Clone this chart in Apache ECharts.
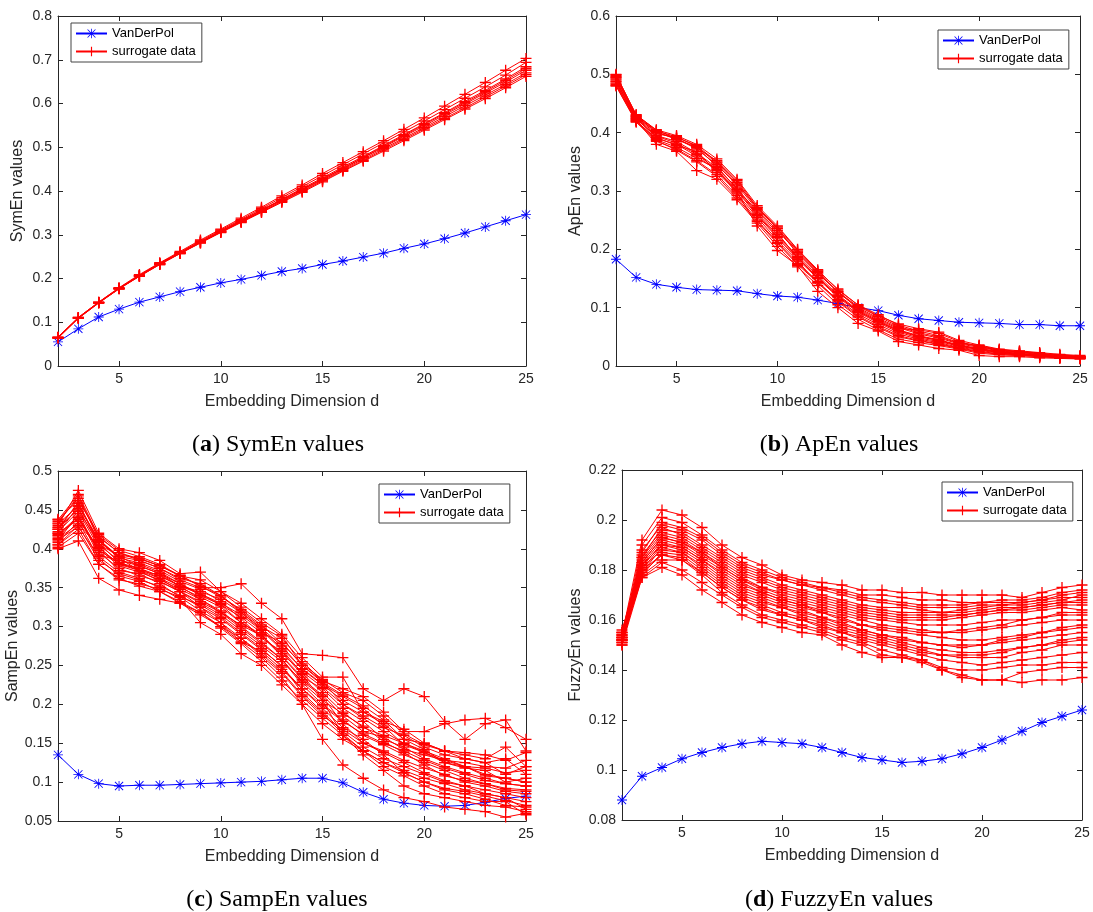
<!DOCTYPE html>
<html><head><meta charset="utf-8">
<script src="https://cdn.jsdelivr.net/npm/echarts@6/dist/echarts.min.js"></script>
<style>html,body{margin:0;padding:0;background:#fff}#c{width:1093px;height:912px}</style>
</head><body><div id="c"></div><script>
const dims = [2,3,4,5,6,7,8,9,10,11,12,13,14,15,16,17,18,19,20,21,22,23,24,25];
const xTicks = [5,10,15,20,25];
const seriesNames = ['VanDerPol', 'surrogate data'];

const symEnVDP = [0.055,0.085,0.112,0.130,0.146,0.158,0.170,0.180,0.190,0.198,0.207,0.216,0.223,0.232,0.240,0.249,0.258,0.269,0.279,0.291,0.304,0.318,0.332,0.346];
const symEnSur = [
 [0.066,0.111,0.146,0.179,0.209,0.236,0.262,0.288,0.313,0.338,0.363,0.389,0.414,0.440,0.465,0.490,0.515,0.541,0.567,0.594,0.621,0.648,0.676,0.703],
 [0.065,0.110,0.145,0.178,0.207,0.235,0.260,0.286,0.311,0.335,0.360,0.385,0.410,0.435,0.460,0.485,0.510,0.535,0.560,0.586,0.612,0.638,0.665,0.694],
 [0.065,0.110,0.145,0.177,0.206,0.234,0.259,0.284,0.309,0.333,0.357,0.381,0.406,0.430,0.455,0.479,0.504,0.529,0.554,0.579,0.605,0.630,0.656,0.684],
 [0.064,0.109,0.144,0.177,0.206,0.233,0.258,0.283,0.307,0.331,0.355,0.379,0.403,0.427,0.451,0.476,0.500,0.525,0.549,0.574,0.599,0.624,0.649,0.676],
 [0.064,0.109,0.144,0.176,0.205,0.232,0.257,0.282,0.306,0.330,0.353,0.377,0.401,0.425,0.449,0.473,0.497,0.521,0.545,0.570,0.595,0.619,0.644,0.670],
 [0.065,0.110,0.145,0.177,0.206,0.233,0.258,0.282,0.306,0.329,0.352,0.376,0.399,0.423,0.447,0.470,0.494,0.518,0.542,0.566,0.590,0.615,0.640,0.666],
 [0.066,0.111,0.146,0.178,0.207,0.234,0.259,0.284,0.308,0.332,0.356,0.380,0.404,0.428,0.452,0.477,0.502,0.527,0.552,0.577,0.602,0.627,0.653,0.680],
 [0.065,0.110,0.145,0.177,0.205,0.232,0.257,0.281,0.305,0.328,0.351,0.374,0.397,0.421,0.445,0.468,0.491,0.515,0.539,0.563,0.587,0.611,0.636,0.662]
];

const apEnVDP = [0.183,0.152,0.140,0.135,0.131,0.130,0.129,0.124,0.120,0.118,0.113,0.107,0.100,0.095,0.087,0.081,0.078,0.075,0.074,0.073,0.071,0.071,0.069,0.069];
const apEnSur = [
 [0.500,0.430,0.405,0.395,0.380,0.355,0.320,0.275,0.240,0.200,0.165,0.130,0.105,0.088,0.070,0.060,0.052,0.040,0.035,0.028,0.025,0.022,0.019,0.017],
 [0.495,0.428,0.400,0.390,0.372,0.345,0.310,0.268,0.232,0.195,0.160,0.126,0.100,0.082,0.066,0.055,0.048,0.038,0.032,0.026,0.023,0.020,0.018,0.016],
 [0.490,0.425,0.395,0.385,0.365,0.340,0.305,0.262,0.225,0.188,0.155,0.122,0.096,0.078,0.062,0.052,0.045,0.036,0.030,0.025,0.021,0.019,0.017,0.015],
 [0.485,0.420,0.390,0.380,0.360,0.335,0.300,0.258,0.220,0.183,0.150,0.118,0.092,0.074,0.058,0.048,0.042,0.034,0.028,0.023,0.020,0.018,0.016,0.014],
 [0.480,0.418,0.385,0.372,0.352,0.328,0.292,0.250,0.212,0.176,0.145,0.112,0.086,0.068,0.052,0.044,0.038,0.031,0.025,0.021,0.019,0.017,0.015,0.013],
 [0.492,0.422,0.380,0.368,0.335,0.320,0.285,0.245,0.205,0.170,0.138,0.105,0.080,0.062,0.046,0.040,0.035,0.029,0.022,0.019,0.018,0.016,0.014,0.013],
 [0.498,0.426,0.398,0.392,0.378,0.350,0.315,0.270,0.236,0.192,0.158,0.128,0.098,0.080,0.064,0.062,0.056,0.042,0.033,0.027,0.024,0.021,0.018,0.016],
 [0.488,0.424,0.392,0.378,0.368,0.332,0.298,0.240,0.198,0.172,0.128,0.100,0.073,0.060,0.042,0.036,0.030,0.027,0.018,0.016,0.016,0.014,0.013,0.012],
 [0.494,0.427,0.402,0.388,0.375,0.342,0.303,0.266,0.228,0.185,0.152,0.120,0.094,0.076,0.060,0.050,0.044,0.035,0.029,0.024,0.022,0.018,0.016,0.015],
 [0.483,0.421,0.388,0.375,0.356,0.338,0.295,0.255,0.215,0.180,0.142,0.114,0.089,0.071,0.055,0.046,0.040,0.032,0.027,0.022,0.020,0.017,0.015,0.014],
 [0.496,0.429,0.403,0.393,0.376,0.348,0.312,0.272,0.235,0.197,0.162,0.127,0.102,0.085,0.068,0.057,0.050,0.039,0.034,0.027,0.024,0.021,0.018,0.016],
 [0.487,0.423,0.394,0.382,0.363,0.337,0.302,0.260,0.222,0.186,0.152,0.120,0.094,0.076,0.061,0.051,0.044,0.035,0.029,0.024,0.021,0.018,0.016,0.015],
 [0.481,0.419,0.387,0.370,0.350,0.325,0.288,0.248,0.210,0.174,0.143,0.110,0.084,0.066,0.050,0.043,0.037,0.030,0.024,0.020,0.018,0.016,0.014,0.013],
 [0.499,0.431,0.404,0.390,0.374,0.352,0.318,0.272,0.238,0.199,0.163,0.132,0.104,0.086,0.072,0.064,0.058,0.044,0.036,0.029,0.026,0.023,0.020,0.018]
];

const sampEnVDP = [0.135,0.110,0.098,0.095,0.096,0.096,0.097,0.098,0.099,0.100,0.101,0.103,0.105,0.105,0.099,0.087,0.078,0.073,0.070,0.069,0.070,0.074,0.079,0.082];
const sampEnSur = [
 [0.420,0.455,0.410,0.390,0.385,0.375,0.360,0.350,0.350,0.355,0.330,0.310,0.265,0.263,0.260,0.220,0.205,0.220,0.210,0.178,0.155,0.175,0.180,0.140],
 [0.430,0.475,0.420,0.400,0.395,0.385,0.368,0.370,0.345,0.325,0.305,0.288,0.250,0.230,0.220,0.210,0.190,0.165,0.165,0.175,0.180,0.182,0.170,0.155],
 [0.400,0.410,0.362,0.347,0.340,0.335,0.330,0.315,0.300,0.280,0.260,0.235,0.200,0.155,0.122,0.105,0.090,0.080,0.075,0.068,0.065,0.062,0.055,0.060],
 [0.415,0.440,0.400,0.378,0.370,0.360,0.348,0.335,0.320,0.300,0.280,0.258,0.225,0.200,0.180,0.160,0.148,0.135,0.125,0.115,0.105,0.098,0.092,0.090],
 [0.425,0.460,0.405,0.385,0.378,0.368,0.355,0.342,0.330,0.315,0.295,0.270,0.240,0.215,0.190,0.170,0.160,0.150,0.140,0.130,0.120,0.110,0.105,0.100],
 [0.435,0.465,0.415,0.395,0.385,0.375,0.362,0.355,0.340,0.320,0.300,0.285,0.255,0.230,0.200,0.185,0.170,0.160,0.145,0.135,0.130,0.125,0.110,0.120],
 [0.405,0.430,0.385,0.368,0.360,0.352,0.340,0.325,0.310,0.290,0.270,0.250,0.215,0.190,0.165,0.145,0.130,0.120,0.110,0.100,0.095,0.085,0.080,0.075],
 [0.410,0.445,0.395,0.375,0.365,0.358,0.345,0.330,0.315,0.295,0.275,0.255,0.230,0.210,0.175,0.150,0.140,0.128,0.118,0.110,0.100,0.095,0.088,0.085],
 [0.428,0.450,0.408,0.382,0.372,0.362,0.350,0.338,0.325,0.305,0.290,0.262,0.235,0.220,0.195,0.178,0.155,0.145,0.130,0.120,0.112,0.105,0.098,0.095],
 [0.420,0.438,0.398,0.372,0.368,0.355,0.338,0.320,0.305,0.280,0.268,0.245,0.220,0.195,0.170,0.155,0.135,0.112,0.100,0.090,0.085,0.078,0.070,0.068],
 [0.438,0.462,0.418,0.398,0.390,0.380,0.365,0.360,0.345,0.330,0.310,0.290,0.260,0.235,0.235,0.190,0.175,0.155,0.150,0.140,0.135,0.130,0.145,0.120],
 [0.412,0.428,0.390,0.370,0.362,0.350,0.335,0.305,0.290,0.265,0.250,0.225,0.200,0.175,0.155,0.140,0.125,0.115,0.105,0.098,0.090,0.085,0.080,0.065],
 [0.422,0.448,0.402,0.380,0.375,0.365,0.352,0.345,0.335,0.318,0.298,0.275,0.245,0.225,0.205,0.190,0.178,0.168,0.150,0.140,0.130,0.125,0.130,0.110],
 [0.432,0.455,0.412,0.388,0.382,0.372,0.358,0.348,0.332,0.310,0.285,0.268,0.238,0.205,0.160,0.140,0.120,0.108,0.095,0.085,0.080,0.075,0.075,0.058],
 [0.418,0.442,0.392,0.385,0.380,0.370,0.355,0.340,0.328,0.312,0.292,0.280,0.250,0.228,0.212,0.198,0.180,0.155,0.142,0.125,0.118,0.115,0.100,0.105],
 [0.408,0.435,0.388,0.365,0.358,0.345,0.330,0.318,0.300,0.285,0.262,0.240,0.210,0.185,0.168,0.150,0.138,0.125,0.112,0.102,0.095,0.090,0.085,0.080],
 [0.425,0.452,0.405,0.392,0.388,0.378,0.365,0.352,0.338,0.322,0.302,0.278,0.252,0.232,0.215,0.205,0.185,0.162,0.148,0.140,0.138,0.135,0.128,0.138],
 [0.402,0.420,0.380,0.360,0.355,0.348,0.338,0.328,0.312,0.292,0.272,0.248,0.220,0.198,0.178,0.162,0.150,0.140,0.128,0.118,0.110,0.102,0.098,0.095],
 [0.433,0.468,0.412,0.390,0.378,0.368,0.352,0.335,0.318,0.302,0.288,0.262,0.232,0.212,0.185,0.165,0.158,0.142,0.135,0.128,0.120,0.118,0.112,0.115],
 [0.417,0.440,0.398,0.382,0.375,0.362,0.345,0.332,0.318,0.298,0.278,0.258,0.228,0.205,0.188,0.172,0.152,0.138,0.122,0.108,0.102,0.098,0.090,0.088],
 [0.427,0.458,0.410,0.388,0.372,0.358,0.345,0.325,0.305,0.285,0.265,0.242,0.212,0.188,0.162,0.140,0.125,0.112,0.100,0.092,0.088,0.082,0.076,0.070],
 [0.413,0.432,0.402,0.380,0.372,0.366,0.352,0.342,0.328,0.305,0.288,0.265,0.242,0.222,0.200,0.182,0.165,0.150,0.138,0.125,0.120,0.108,0.105,0.100],
 [0.437,0.470,0.416,0.395,0.387,0.378,0.366,0.352,0.340,0.318,0.296,0.272,0.246,0.226,0.210,0.195,0.172,0.148,0.138,0.128,0.125,0.120,0.118,0.128],
 [0.405,0.425,0.380,0.362,0.352,0.345,0.332,0.318,0.298,0.278,0.255,0.230,0.205,0.182,0.160,0.135,0.115,0.095,0.085,0.080,0.075,0.070,0.068,0.062]
];

const fuzzyEnVDP = [0.088,0.0975,0.101,0.1045,0.107,0.109,0.1105,0.1115,0.111,0.1105,0.109,0.107,0.105,0.104,0.103,0.1035,0.1045,0.1065,0.109,0.112,0.1155,0.119,0.1215,0.124];
const fuzzyEnSur = [
 [0.154,0.192,0.204,0.202,0.197,0.190,0.185,0.182,0.178,0.176,0.175,0.174,0.172,0.172,0.171,0.171,0.170,0.170,0.170,0.170,0.169,0.171,0.173,0.174],
 [0.153,0.190,0.201,0.199,0.194,0.188,0.183,0.180,0.177,0.175,0.173,0.172,0.170,0.170,0.169,0.168,0.168,0.167,0.167,0.167,0.167,0.168,0.170,0.171],
 [0.152,0.188,0.198,0.196,0.192,0.186,0.181,0.178,0.176,0.174,0.172,0.170,0.168,0.167,0.166,0.165,0.165,0.165,0.166,0.166,0.166,0.167,0.168,0.170],
 [0.155,0.186,0.196,0.195,0.190,0.185,0.180,0.177,0.174,0.172,0.170,0.168,0.166,0.165,0.165,0.164,0.163,0.163,0.164,0.165,0.165,0.166,0.167,0.168],
 [0.151,0.185,0.195,0.193,0.188,0.183,0.178,0.175,0.172,0.170,0.168,0.166,0.164,0.163,0.162,0.162,0.162,0.162,0.163,0.164,0.164,0.165,0.166,0.166],
 [0.153,0.184,0.194,0.192,0.187,0.182,0.177,0.173,0.170,0.168,0.166,0.164,0.162,0.161,0.160,0.160,0.160,0.161,0.162,0.163,0.163,0.164,0.165,0.164],
 [0.156,0.183,0.193,0.191,0.186,0.181,0.176,0.172,0.169,0.167,0.165,0.163,0.161,0.160,0.159,0.158,0.158,0.158,0.159,0.160,0.160,0.161,0.162,0.162],
 [0.152,0.182,0.192,0.190,0.185,0.180,0.175,0.171,0.168,0.166,0.164,0.162,0.160,0.158,0.157,0.156,0.155,0.155,0.156,0.157,0.158,0.159,0.160,0.160],
 [0.154,0.181,0.191,0.189,0.184,0.178,0.173,0.170,0.167,0.165,0.163,0.160,0.158,0.156,0.155,0.154,0.153,0.152,0.152,0.153,0.154,0.155,0.156,0.157],
 [0.150,0.180,0.190,0.188,0.183,0.177,0.172,0.169,0.166,0.164,0.161,0.159,0.156,0.154,0.153,0.151,0.150,0.150,0.150,0.151,0.152,0.153,0.154,0.155],
 [0.155,0.179,0.189,0.187,0.181,0.175,0.170,0.167,0.165,0.162,0.160,0.157,0.155,0.153,0.151,0.149,0.148,0.147,0.147,0.148,0.149,0.150,0.152,0.153],
 [0.153,0.178,0.187,0.186,0.180,0.174,0.169,0.166,0.163,0.161,0.159,0.156,0.154,0.152,0.150,0.148,0.146,0.145,0.145,0.145,0.147,0.148,0.150,0.150],
 [0.152,0.180,0.186,0.185,0.179,0.173,0.168,0.164,0.162,0.160,0.157,0.155,0.152,0.150,0.148,0.146,0.144,0.143,0.142,0.143,0.144,0.145,0.146,0.147],
 [0.151,0.178,0.184,0.184,0.178,0.171,0.166,0.162,0.160,0.158,0.156,0.153,0.151,0.148,0.146,0.144,0.141,0.140,0.140,0.141,0.142,0.142,0.143,0.143],
 [0.152,0.177,0.183,0.180,0.175,0.170,0.165,0.161,0.159,0.157,0.155,0.152,0.150,0.146,0.145,0.143,0.140,0.138,0.136,0.136,0.139,0.140,0.141,0.141],
 [0.150,0.177,0.181,0.178,0.172,0.167,0.162,0.159,0.157,0.155,0.154,0.150,0.147,0.145,0.145,0.144,0.140,0.137,0.136,0.136,0.135,0.136,0.136,0.137],
 [0.153,0.187,0.199,0.197,0.193,0.187,0.182,0.179,0.176,0.174,0.173,0.171,0.169,0.168,0.167,0.166,0.166,0.166,0.167,0.168,0.168,0.169,0.171,0.172],
 [0.154,0.185,0.197,0.194,0.189,0.184,0.179,0.176,0.173,0.171,0.169,0.167,0.165,0.164,0.163,0.163,0.163,0.164,0.165,0.166,0.167,0.168,0.169,0.169],
 [0.152,0.183,0.193,0.191,0.187,0.181,0.176,0.173,0.171,0.169,0.167,0.165,0.163,0.162,0.161,0.161,0.161,0.162,0.163,0.164,0.165,0.166,0.167,0.167],
 [0.151,0.182,0.190,0.189,0.184,0.179,0.174,0.171,0.168,0.166,0.163,0.161,0.158,0.157,0.156,0.155,0.155,0.156,0.157,0.158,0.160,0.161,0.163,0.163],
 [0.155,0.181,0.188,0.187,0.182,0.176,0.171,0.168,0.165,0.163,0.161,0.158,0.156,0.154,0.152,0.151,0.150,0.149,0.150,0.152,0.153,0.155,0.157,0.158],
 [0.153,0.179,0.186,0.184,0.179,0.173,0.168,0.165,0.162,0.160,0.158,0.155,0.153,0.151,0.149,0.147,0.146,0.146,0.146,0.147,0.149,0.150,0.151,0.152]
];

const PLUS = 'path://M4.4,0H5.6V10H4.4ZM0,4.4H10V5.6H0Z';
const STAR = 'path://M4.6,0H5.4V10H4.6ZM0,4.6H10V5.4H0ZM1.2,0.6L9.4,8.8L8.8,9.4L0.6,1.2ZM8.8,0.6L9.4,1.2L1.2,9.4L0.6,8.8Z';
const AX = '#262626';
const FONT = 'Liberation Sans, Arial, sans-serif';

const panels = [
 {vdp: symEnVDP, sur: symEnSur, ymin: 0, ymax: 0.8, step: 0.1, yname: 'SymEn values', tag: 'a', cap: 'SymEn values',
  grid: {left: 58, top: 16, width: 468, height: 350}, yGap: 32, leg: {left: 71, top: 23}, capXY: [273, 428]},
 {vdp: apEnVDP, sur: apEnSur, ymin: 0, ymax: 0.6, step: 0.1, yname: 'ApEn values', tag: 'b', cap: 'ApEn values',
  grid: {left: 616, top: 16, width: 464, height: 350}, yGap: 32, leg: {left: 938, top: 30}, capXY: [834, 428]},
 {vdp: sampEnVDP, sur: sampEnSur, ymin: 0.05, ymax: 0.5, step: 0.05, yname: 'SampEn values', tag: 'c', cap: 'SampEn values',
  grid: {left: 58, top: 471, width: 468, height: 350}, yGap: 35, leg: {left: 379, top: 484}, capXY: [272, 883]},
 {vdp: fuzzyEnVDP, sur: fuzzyEnSur, ymin: 0.08, ymax: 0.22, step: 0.02, yname: 'FuzzyEn values', tag: 'd', cap: 'FuzzyEn values',
  grid: {left: 622, top: 470, width: 460, height: 350}, yGap: 38, leg: {left: 942, top: 482}, capXY: [834, 883]}
];

const grid = [], xAxis = [], yAxis = [], series = [], legend = [], title = [];
panels.forEach((p, i) => {
  grid.push(Object.assign({}, p.grid));
  const lineStyle = {color: AX, width: 1};
  xAxis.push({
    gridIndex: i, type: 'value', min: 2, max: 25, position: 'bottom',
    name: 'Embedding Dimension d', nameLocation: 'middle', nameGap: 28,
    nameTextStyle: {color: AX, fontSize: 16, fontFamily: FONT},
    axisLine: {show: true, onZero: false, lineStyle},
    axisTick: {show: true, inside: true, length: 5, customValues: xTicks, lineStyle},
    axisLabel: {color: AX, fontSize: 14, fontFamily: FONT, margin: 6, customValues: xTicks},
    splitLine: {show: false}
  });
  xAxis.push({
    gridIndex: i, type: 'value', min: 2, max: 25, position: 'top',
    axisLine: {show: true, onZero: false, lineStyle},
    axisTick: {show: true, inside: true, length: 5, customValues: xTicks, lineStyle},
    axisLabel: {show: false}, splitLine: {show: false}
  });
  yAxis.push({
    gridIndex: i, type: 'value', min: p.ymin, max: p.ymax, interval: p.step, position: 'left',
    name: p.yname, nameLocation: 'middle', nameGap: p.yGap,
    nameTextStyle: {color: AX, fontSize: 16, fontFamily: FONT},
    axisLine: {show: true, onZero: false, lineStyle},
    axisTick: {show: true, inside: true, length: 5, lineStyle},
    axisLabel: {color: AX, fontSize: 14, fontFamily: FONT, margin: 6},
    splitLine: {show: false}
  });
  yAxis.push({
    gridIndex: i, type: 'value', min: p.ymin, max: p.ymax, interval: p.step, position: 'right',
    axisLine: {show: true, onZero: false, lineStyle},
    axisTick: {show: true, inside: true, length: 5, lineStyle},
    axisLabel: {show: false}, splitLine: {show: false}
  });
  series.push({
    type: 'line', name: seriesNames[0], xAxisIndex: 2 * i, yAxisIndex: 2 * i,
    data: dims.map((d, k) => [d, p.vdp[k]]),
    symbol: STAR, symbolSize: 10, showAllSymbol: true,
    lineStyle: {color: '#0000ff', width: 1}, itemStyle: {color: '#0000ff'},
    animation: false, silent: true
  });
  p.sur.forEach(arr => {
    series.push({
      type: 'line', name: seriesNames[1], xAxisIndex: 2 * i, yAxisIndex: 2 * i,
      data: dims.map((d, k) => [d, arr[k]]),
      symbol: PLUS, symbolSize: 11, showAllSymbol: true,
      lineStyle: {color: '#ff0000', width: 1}, itemStyle: {color: '#ff0000'},
      animation: false, silent: true
    });
  });
  legend.push({
    data: seriesNames, orient: 'vertical', left: p.leg.left, top: p.leg.top,
    itemWidth: 31, itemHeight: 12, itemGap: 5, padding: [4, 6, 4, 4],
    borderColor: '#444', borderWidth: 1, backgroundColor: '#fff',
    textStyle: {color: '#000', fontSize: 13, fontFamily: FONT}, selectedMode: false
  });
  title.push({
    text: '({b|' + p.tag + '}) ' + p.cap, left: p.capXY[0], top: p.capXY[1], textAlign: 'center',
    textStyle: {color: '#000', fontSize: 24, fontWeight: 'normal', fontFamily: 'Liberation Serif, serif',
      rich: {b: {fontWeight: 'bold', fontSize: 24, fontFamily: 'Liberation Serif, serif', color: '#000'}}}
  });
});

const chart = echarts.init(document.getElementById('c'), null, {renderer: 'canvas'});
chart.setOption({backgroundColor: '#fff', animation: false, grid, xAxis, yAxis, series, legend, title});
</script></body></html>
